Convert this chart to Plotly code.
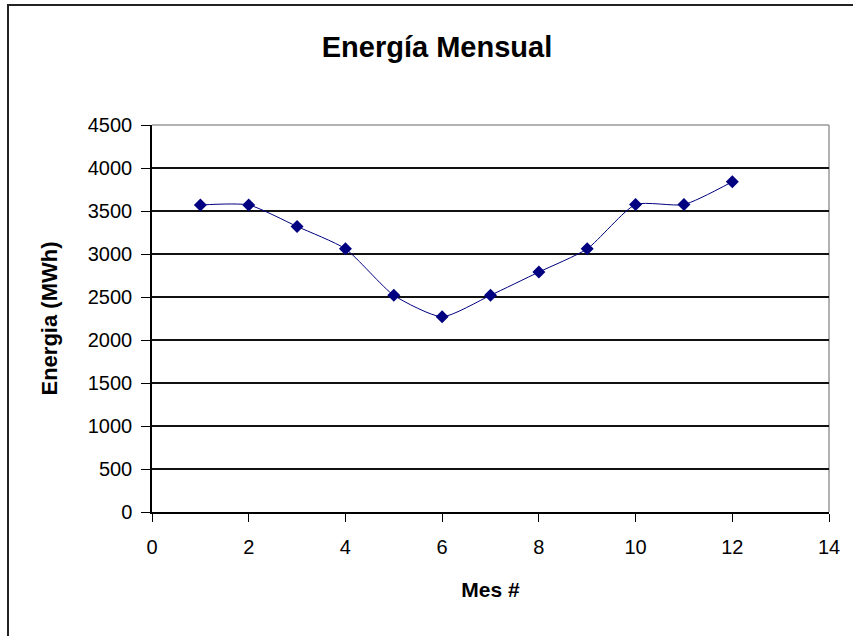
import plotly.graph_objects as go

meses = [1, 2, 3, 4, 5, 6, 7, 8, 9, 10, 11, 12]
energia = [3570, 3570, 3320, 3060, 2520, 2270, 2520, 2790, 3060, 3575, 3575, 3840]
y_ticks = [0, 500, 1000, 1500, 2000, 2500, 3000, 3500, 4000, 4500]
x_ticks = [0, 2, 4, 6, 8, 10, 12, 14]
titulo = "Energía Mensual"
titulo_x = "Mes #"
titulo_y = "Energia (MWh)"

W, H = 853, 636
L, R, T, B = 152, 24, 125, 124
pw, ph = W - L - R, H - T - B

font_fam = "Liberation Sans, Arial, sans-serif"

fig = go.Figure()
fig.add_trace(go.Scatter(
    x=meses, y=energia, mode="lines+markers",
    line=dict(color="#000080", width=1, shape="spline", smoothing=0.6),
    marker=dict(symbol="diamond", size=10, color="#000080"),
    showlegend=False,
))

fig.update_layout(
    width=W, height=H,
    margin=dict(l=L, r=R, t=T, b=B),
    paper_bgcolor="white", plot_bgcolor="white",
    font=dict(family=font_fam, color="black"),
    title=dict(text="<b>" + titulo + "</b>", x=437 / W, xref="container",
               xanchor="center", y=1 - 47 / H, yref="container", yanchor="middle",
               font=dict(size=29, family=font_fam, color="black")),
    xaxis=dict(range=[0, 14], tickvals=x_ticks, ticks="outside", ticklen=8,
               tickcolor="black", showline=True, linecolor="black", linewidth=1.5,
               showgrid=False, zeroline=False, ticklabelstandoff=8,
               tickfont=dict(size=20, family=font_fam, color="black"),
               title=dict(text="<b>" + titulo_x + "</b>", standoff=26,
                          font=dict(size=21, family=font_fam, color="black"))),
    yaxis=dict(range=[0, 4500], tickvals=y_ticks, ticks="outside", ticklen=9,
               tickcolor="black", showline=True, linecolor="black", linewidth=1.5,
               showgrid=False, zeroline=False, ticklabelstandoff=5,
               minor=dict(tickvals=y_ticks[1:-1], showgrid=True, gridcolor="#111",
                          gridwidth=1.5, ticks=""),
               tickfont=dict(size=20, family=font_fam, color="black"),
               title=dict(text="<b>" + titulo_y + "</b>", standoff=24,
                          font=dict(size=22, family=font_fam, color="black"))),
    shapes=[
        dict(type="line", xref="x domain", yref="y domain", x0=0, x1=1, y0=1, y1=1,
             line=dict(color="#999999", width=1.5), layer="below"),
        dict(type="line", xref="x domain", yref="y domain", x0=1, x1=1, y0=0, y1=1,
             line=dict(color="#999999", width=1.5), layer="below"),
        dict(type="rect", xref="paper", yref="paper",
             x0=(8 - L) / pw, x1=(W + 20 - L) / pw,
             y0=-(B + 20) / ph, y1=(H - B - 5) / ph,
             line=dict(color="#222222", width=2), fillcolor="rgba(0,0,0,0)"),
    ],
)

fig.write_html("out.html", config={"displayModeBar": False},
               post_script="document.body.style.margin='0px';")
